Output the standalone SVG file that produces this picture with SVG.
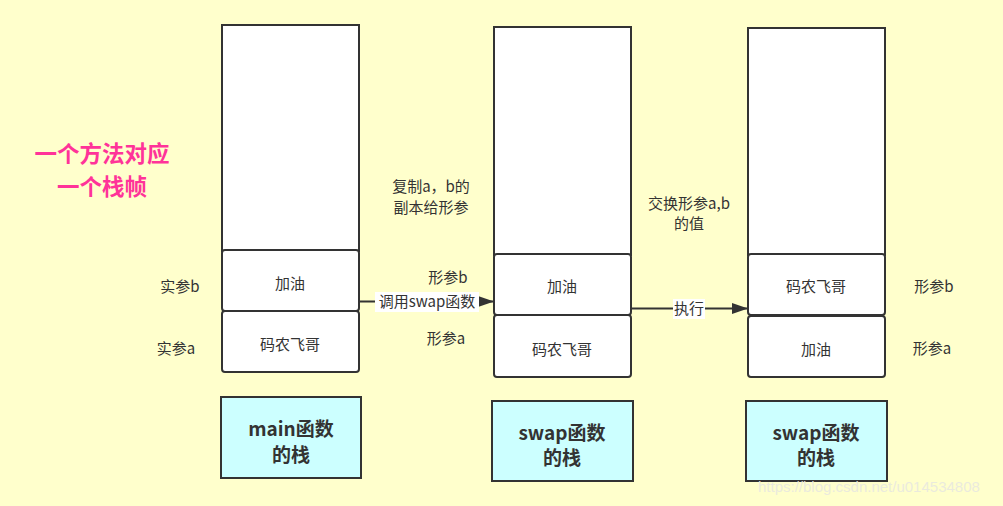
<svg xmlns="http://www.w3.org/2000/svg" width="1003" height="506" viewBox="0 0 1003 506">
<defs>
<style>
.bg{fill:#FFFFCC}
.frame{fill:#FFFFFF;stroke:#333333;stroke-width:2}
.cell{fill:#FFFFFF;stroke:#333333;stroke-width:2}
.blue{fill:#CCFFFF;stroke:#333333;stroke-width:2}
.t{font-family:"Noto Sans CJK SC","Liberation Sans",sans-serif;font-size:15px;fill:#333333;text-anchor:middle}
.tb{font-family:"Noto Sans CJK SC","Liberation Sans",sans-serif;font-size:19px;font-weight:bold;fill:#333333;text-anchor:middle}
.pink{font-family:"Noto Sans CJK SC","Liberation Sans",sans-serif;font-size:22.5px;font-weight:bold;fill:#FF3399;text-anchor:middle}
.edge{stroke:#333333;stroke-width:2;fill:none}
.lblbg{fill:#FFFFFF}
</style>
<marker id="arr" viewBox="0 0 16 11" refX="16" refY="5.5" markerWidth="16" markerHeight="11" markerUnits="userSpaceOnUse" orient="auto">
<path d="M0,0 L16,5.5 L0,11 Z" fill="#333333"/>
</marker>
</defs>
<rect class="bg" x="0" y="0" width="1003" height="506"/>

<g id="title">
<text class="pink" x="102" y="162">一个方法对应</text>
<text class="pink" x="102" y="195">一个栈帧</text>
</g>

<g id="main-stack">
<rect class="frame" x="222" y="25" width="137" height="226"/>
<rect class="cell" x="222" y="250" width="137" height="61" rx="3"/>
<text class="t" x="290" y="289">加油</text>
<rect class="cell" x="222" y="311" width="137" height="61" rx="3"/>
<text class="t" x="290" y="350">码农飞哥</text>
</g>

<g id="swap-stack-1">
<rect class="frame" x="494" y="27" width="137" height="228"/>
<rect class="cell" x="494" y="254" width="137" height="61" rx="3"/>
<text class="t" x="562" y="292">加油</text>
<rect class="cell" x="494" y="315" width="137" height="62" rx="3"/>
<text class="t" x="562" y="355">码农飞哥</text>
</g>

<g id="swap-stack-2">
<rect class="frame" x="748" y="28" width="137" height="227"/>
<rect class="cell" x="748" y="254" width="137" height="61" rx="3"/>
<text class="t" x="816" y="292">码农飞哥</text>
<rect class="cell" x="748" y="316" width="137" height="61" rx="3"/>
<text class="t" x="816" y="355">加油</text>
</g>

<g id="labels">
<text class="t" x="180" y="292">实参b</text>
<text class="t" x="176" y="354">实参a</text>
<text class="t" x="448" y="283">形参b</text>
<text class="t" x="446" y="344">形参a</text>
<text class="t" x="934" y="292">形参b</text>
<text class="t" x="932" y="354">形参a</text>
<text class="t" x="431" y="192">复制a，b的</text>
<text class="t" x="431" y="213">副本给形参</text>
<text class="t" x="689" y="209">交换形参a,b</text>
<text class="t" x="689" y="229">的值</text>
</g>

<g id="connectors">
<path class="edge" d="M359,301.5 L494,301.5" marker-end="url(#arr)"/>
<rect class="lblbg" x="375" y="292" width="104" height="20"/>
<text class="t" x="427" y="307">调用swap函数</text>
<path class="edge" d="M631,308.5 L748,308.5" marker-end="url(#arr)"/>
<rect class="lblbg" x="673" y="299" width="32" height="20"/>
<text class="t" x="689" y="314">执行</text>
</g>

<g id="main-label">
<rect class="blue" x="221" y="397" width="140" height="81"/>
<text class="tb" x="291" y="436">main函数</text>
<text class="tb" x="291" y="462">的栈</text>
</g>
<g id="swap-label-1">
<rect class="blue" x="492" y="401" width="141" height="80"/>
<text class="tb" x="562" y="440">swap函数</text>
<text class="tb" x="562" y="465">的栈</text>
</g>
<g id="swap-label-2">
<rect class="blue" x="746" y="401" width="141" height="80"/>
<text class="tb" x="816" y="440">swap函数</text>
<text class="tb" x="816" y="465">的栈</text>
</g>

<text x="758" y="492" font-family="Liberation Sans, sans-serif" font-size="15" fill="#E8E8E0" fill-opacity="0.9">https://blog.csdn.net/u014534808</text>
</svg>
